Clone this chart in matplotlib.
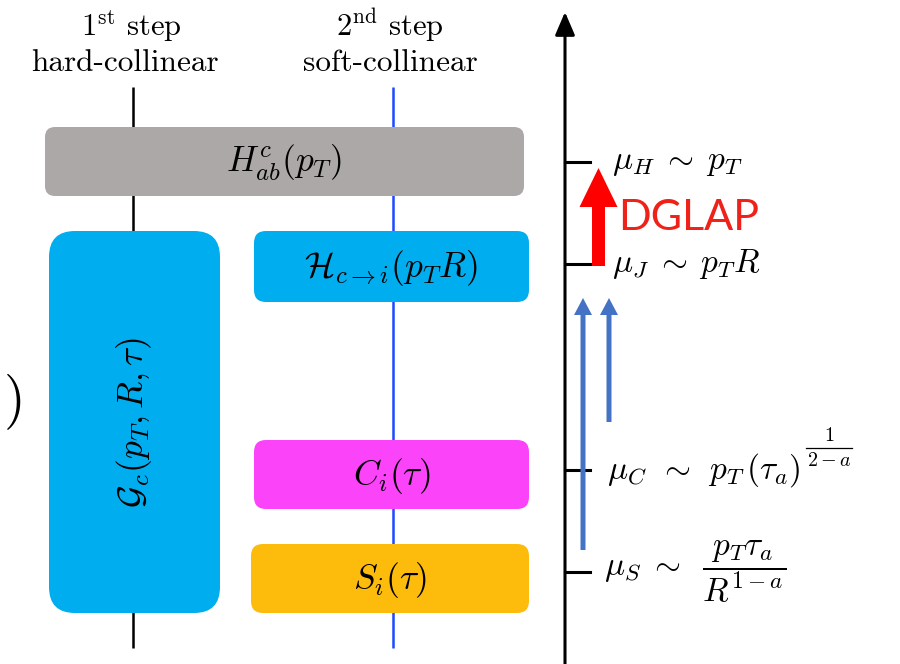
import matplotlib
matplotlib.use("Agg")
import matplotlib.pyplot as plt
from matplotlib.patches import FancyBboxPatch

plt.rcParams['mathtext.fontset'] = 'cm'

# ---- content (pixel layout of the diagram) ----
step_x = [133, 393]
step_titles = [r"$1^{\mathrm{st}}$ step", r"$2^{\mathrm{nd}}$ step"]
step_subtitles = ["hard-collinear", "soft-collinear"]
step_title_x = [131, 390]
step_sub_x = [125, 390]
step_colors = ["black", "#1f48ff"]

# boxes: x0, y0(top), x1, y1(bottom), colour, label, rotation, corner radius
box_labels = [r"$H^c_{ab}(p_T)$", r"$\mathcal{G}_c(p_T,R,\tau)$",
              r"$\mathcal{H}_{c\to i}(p_T R)$", r"$C_i(\tau)$", r"$S_i(\tau)$"]
box_x0 = [45, 49, 254, 254, 251]
box_x1 = [524, 220, 529, 529, 529]
box_y0 = [127, 231, 231, 440, 544]
box_y1 = [196, 613, 302, 509, 613]
box_colors = ["#aca8a7", "#00adee", "#00adee", "#fb43fa", "#fdbb0c"]
box_rot = [0, 90, 0, 0, 0]
box_radius = [10, 26, 12, 12, 12]

scale_y = [162, 264, 470, 572]
scale_labels = [r"$\mu_H \;\sim\; p_T$", r"$\mu_J \;\sim\; p_T R$",
                r"$\mu_C \;\,\sim\;\, p_T\,(\tau_a)$",
                r"$\mu_S \;\sim\;\; \dfrac{p_T\tau_a}{R^{1-a}}$"]
# exponent as (numerator, denominator), drawn as a small stacked fraction
scale_exponents = [None, None, (r"$1$", r"$2-a$"), None]
scale_label_x = [612, 612, 607, 604]

fig = plt.figure(figsize=(9, 6.64), dpi=100)
ax = fig.add_axes([0, 0, 1, 1])
ax.set_xlim(0, 900)
ax.set_ylim(664, 0)
ax.axis('off')

# step lines + titles
for x, tx, sx, t, s, c in zip(step_x, step_title_x, step_sub_x, step_titles,
                              step_subtitles, step_colors):
    ax.plot([x, x], [87, 648], color=c, lw=1.8, zorder=1, solid_capstyle='butt')
    ax.text(tx, 36, t, ha='center', va='baseline', fontsize=22, family='cmr10')
    ax.text(sx, 71, s, ha='center', va='baseline', fontsize=22.5, family='cmr10')

# boxes
for lab, x0, x1, y0, y1, col, rot, r in zip(box_labels, box_x0, box_x1, box_y0,
                                             box_y1, box_colors, box_rot, box_radius):
    p = FancyBboxPatch((x0, y0), x1 - x0, y1 - y0,
                       boxstyle=f"round,pad=0,rounding_size={r}",
                       fc=col, ec='none', zorder=2)
    ax.add_patch(p)
    ax.text((x0 + x1) / 2, (y0 + y1) / 2 + 1, lab, ha='center', va='center',
            fontsize=25.5, rotation=rot, zorder=3)

# partial parenthesis at left edge
ax.text(12, 402, r"$)$", ha='center', va='center', fontsize=40)

# right scale axis
ax.annotate("", xy=(565, 12), xytext=(565, 664),
            arrowprops=dict(arrowstyle='-|>,head_length=0.7,head_width=0.3',
                            lw=2.2, color='black', mutation_scale=20,
                            shrinkA=0, shrinkB=0))
fig.canvas.draw()
renderer = fig.canvas.get_renderer()
inv = ax.transData.inverted()
for y, lab, ex, lx in zip(scale_y, scale_labels, scale_exponents, scale_label_x):
    ax.plot([565, 590], [y, y], color='black', lw=2.2, zorder=2)
    t = ax.text(lx, y, lab, ha='left', va='center', fontsize=24)
    if ex is not None:
        bb = t.get_window_extent(renderer=renderer)
        x_end = inv.transform((bb.x1, bb.y1))[0]
        fx0 = x_end + 6
        bar_y = y - 22
        den = ax.text(fx0, bar_y + 3, ex[1], ha='left', va='top', fontsize=14.5)
        dbb = den.get_window_extent(renderer=renderer)
        dw = inv.transform((dbb.x1, dbb.y1))[0] - fx0
        ax.plot([fx0 - 1, fx0 + dw + 1], [bar_y, bar_y], color='black', lw=0.9)
        ax.text(fx0 + dw / 2, bar_y - 3, ex[0], ha='center', va='bottom',
                fontsize=14.5)

# DGLAP arrow
ax.arrow(598.5, 266, 0, -98, width=13, head_width=38, head_length=39,
         length_includes_head=True, color='#ff0000', lw=0, zorder=3)
ax.text(618, 218, "DGLAP", color='#ee2218', fontsize=31, family='Lato',
        ha='left', va='center')

# blue evolution arrows
ax.arrow(583, 550, 0, -252, width=5, head_width=18, head_length=17,
         length_includes_head=True, color='#4472c4', lw=0, zorder=3)
ax.arrow(609, 422, 0, -124, width=5, head_width=18, head_length=17,
         length_includes_head=True, color='#4472c4', lw=0, zorder=3)

fig.savefig("out.png", dpi=100)
